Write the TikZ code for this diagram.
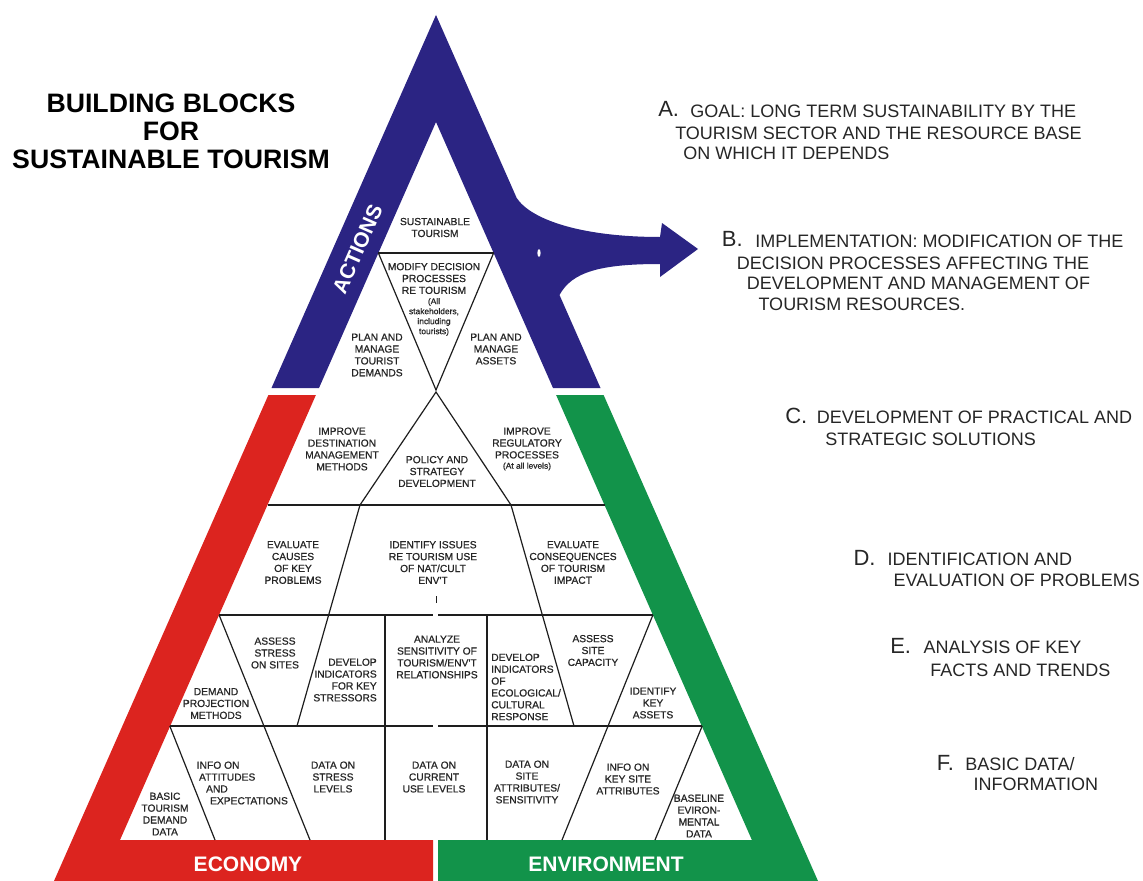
\documentclass[tikz,border=0pt]{standalone}
\usepackage{fontspec}
\setmainfont{Liberation Sans}
\newfontfamily\heavyish[FakeBold=0.7]{Liberation Sans}
\definecolor{navy}{HTML}{2B2483}
\definecolor{ecored}{HTML}{DC241F}
\definecolor{envgreen}{HTML}{12934A}
\definecolor{txt}{HTML}{262626}
\definecolor{lncol}{HTML}{1E1E1E}
\tikzset{
  ln/.style={draw=lncol, line width=0.9pt},
  inner/.style={font=\heavyish\fontsize{7.7}{8.9}\selectfont, text=txt, align=center, inner sep=0pt},
  tiny/.style={font=\heavyish\fontsize{6.3}{7.5}\selectfont, text=txt, align=center, inner sep=0pt},
  band/.style={font=\bfseries\fontsize{15.75}{18}\selectfont, text=white, inner sep=0pt},
  letter/.style={font=\fontsize{16.5}{18}\selectfont, text=txt, anchor=base west, inner sep=0pt},
  body/.style={font=\fontsize{13.5}{15}\selectfont, text=txt, anchor=base west, inner sep=0pt},
}
\begin{document}
\begin{tikzpicture}[x=0.75pt,y=-0.75pt]
\useasboundingbox (0,0) rectangle (1143,881);
\fill[white] (0,0) rectangle (1143,881);

% coloured bands
\fill[navy] (436,15) -- (516.7,198) .. controls (532,221) and (585,237) .. (660,237)
  -- (662,223) -- (698,249) -- (660,277) -- (660,264)
  .. controls (600,264) and (572,272) .. (559.5,295)
  -- (600.5,388) -- (553,388) -- (436,122) -- (319,388) -- (271.5,388) -- cycle;
\fill[white] (539,253) ellipse [x radius=1.6, y radius=4];
\fill[ecored] (268.4,395) -- (315.9,395) -- (120,840) -- (433,840) -- (433,881) -- (54,881) -- cycle;
\fill[envgreen] (556.1,395) -- (603.6,395) -- (818,881) -- (438,881) -- (438,840) -- (751.9,840) -- cycle;

% inner lines
\draw[ln] (378.4,253) -- (493.6,253);
\draw[ln] (378.4,253) -- (436,390) -- (493.6,253);
\draw[ln] (360,505) -- (436,392) -- (511,505);
\draw[ln] (267.5,505) -- (604.5,505);
\draw[ln] (219.1,615) -- (433,615);
\draw[ln] (438,615) -- (652.9,615);
\draw[ln] (169.8,726) -- (433,726);
\draw[ln] (438,726) -- (702.2,726);
\draw[ln] (360,505) -- (297,726);
\draw[ln] (511,505) -- (574,726);
\draw[ln] (219.1,615) -- (310,840);
\draw[ln] (652.9,615) -- (562,840);
\draw[ln] (169.8,726) -- (215,840);
\draw[ln] (702.2,726) -- (655,840);
\draw[ln] (385,615) -- (385,840);
\draw[ln] (487,615) -- (487,840);
\draw[ln] (436.5,596) -- (436.5,603);

% band labels
\node[band, rotate=66.2] (actions) at (357.5,249) {ACTIONS};
\node[band] (economy) at (248,864) {ECONOMY};
\node[band] (environment) at (606,864) {ENVIRONMENT};

% title
\node[font=\bfseries\fontsize{20}{21.1}\selectfont, align=center, inner sep=0pt] (title) at (171,131)
  {BUILDING BLOCKS\\FOR\\SUSTAINABLE TOURISM};

% inner labels
\node[inner] (sust) at (435,227.5) {SUSTAINABLE\\TOURISM};
\node[inner] (mod) at (434,278.5) {MODIFY DECISION\\PROCESSES\\RE TOURISM};
\node[tiny] (modsmall) at (434,317) {(All\\stakeholders,\\including\\tourists)};
\node[inner] (plantd) at (377,355) {PLAN AND\\MANAGE\\TOURIST\\DEMANDS};
\node[inner] (planas) at (496,349) {PLAN AND\\MANAGE\\ASSETS};
\node[inner] (impdest) at (342,449) {IMPROVE\\DESTINATION\\MANAGEMENT\\METHODS};
\node[inner] (policy) at (437,471.5) {POLICY AND\\STRATEGY\\DEVELOPMENT};
\node[inner] (impreg) at (527,443) {IMPROVE\\REGULATORY\\PROCESSES};
\node[tiny] (impregsmall) at (527,466.5) {(At all levels)};
\node[inner] (evcause) at (293,562.5) {EVALUATE\\CAUSES\\OF KEY\\PROBLEMS};
\node[inner] (identify) at (433,562.5) {IDENTIFY ISSUES\\RE TOURISM USE\\OF NAT/CULT\\ENV'T};
\node[inner] (evcons) at (573,562.5) {EVALUATE\\CONSEQUENCES\\OF TOURISM\\IMPACT};
\node[inner] (assstress) at (275,653) {ASSESS\\STRESS\\ON SITES};
\node[inner] (demproj) at (216,703.5) {DEMAND\\PROJECTION\\METHODS};
\node[inner, align=right, anchor=east] (devkey) at (377,680) {DEVELOP\\INDICATORS\\FOR KEY\\STRESSORS};
\node[inner] (analyze) at (437,657) {ANALYZE\\SENSITIVITY OF\\TOURISM/ENV'T\\RELATIONSHIPS};
\node[inner, align=left, anchor=west] (deveco) at (491,687) {DEVELOP\\INDICATORS\\OF\\ECOLOGICAL/\\CULTURAL\\RESPONSE};
\node[inner] (asssite) at (593,650.5) {ASSESS\\SITE\\CAPACITY};
\node[inner] (idkey) at (653,703) {IDENTIFY\\KEY\\ASSETS};
\node[inner] (basic) at (165,814) {BASIC\\TOURISM\\DEMAND\\DATA};
\node[inner, align=left, anchor=west] (infoatt) at (196.5,783)
  {INFO ON\\\hspace*{1.7pt}ATTITUDES\\\hspace*{7pt}AND\\\hspace*{10pt}EXPECTATIONS};
\node[inner] (datastress) at (333,777) {DATA ON\\STRESS\\LEVELS};
\node[inner] (datacur) at (434,777) {DATA ON\\CURRENT\\USE LEVELS};
\node[inner] (datasite) at (527,782) {DATA ON\\SITE\\ATTRIBUTES/\\SENSITIVITY};
\node[inner] (infokey) at (628,779) {INFO ON\\KEY SITE\\ATTRIBUTES};
\node[inner] (baseline) at (699,816) {BASELINE\\EVIRON-\\MENTAL\\DATA};

% right-hand levels
\node[letter] (la) at (658,117) {A.};
\node[body] (la1) at (690,117.3) {GOAL: LONG TERM SUSTAINABILITY BY THE};
\node[body] (la2) at (675,140) {TOURISM SECTOR AND THE RESOURCE BASE};
\node[body] (la3) at (683,160) {ON WHICH IT DEPENDS};

\node[letter] (lb) at (721.7,246.7) {B.};
\node[body] (lb1) at (755,247) {IMPLEMENTATION: MODIFICATION OF THE};
\node[body] (lb2) at (736.7,269.3) {DECISION PROCESSES AFFECTING THE};
\node[body] (lb3) at (746.7,289.3) {DEVELOPMENT AND MANAGEMENT OF};
\node[body] (lb4) at (758.3,310) {TOURISM RESOURCES.};

\node[letter] (lc) at (785,423.3) {C.};
\node[body] (lc1) at (816.7,423.3) {DEVELOPMENT OF PRACTICAL AND};
\node[body] (lc2) at (825,445) {STRATEGIC SOLUTIONS};

\node[letter] (ld) at (853.3,565) {D.};
\node[body] (ld1) at (887.3,565) {IDENTIFICATION AND};
\node[body] (ld2) at (893.3,586) {EVALUATION OF PROBLEMS};

\node[letter] (le) at (890,653.3) {E.};
\node[body] (le1) at (923.3,653.3) {ANALYSIS OF KEY};
\node[body] (le2) at (930,676) {FACTS AND TRENDS};

\node[letter] (lf) at (936.7,770.7) {F.};
\node[body] (lf1) at (965,770.7) {BASIC DATA/};
\node[body] (lf2) at (973.3,790) {INFORMATION};
\end{tikzpicture}
\end{document}
